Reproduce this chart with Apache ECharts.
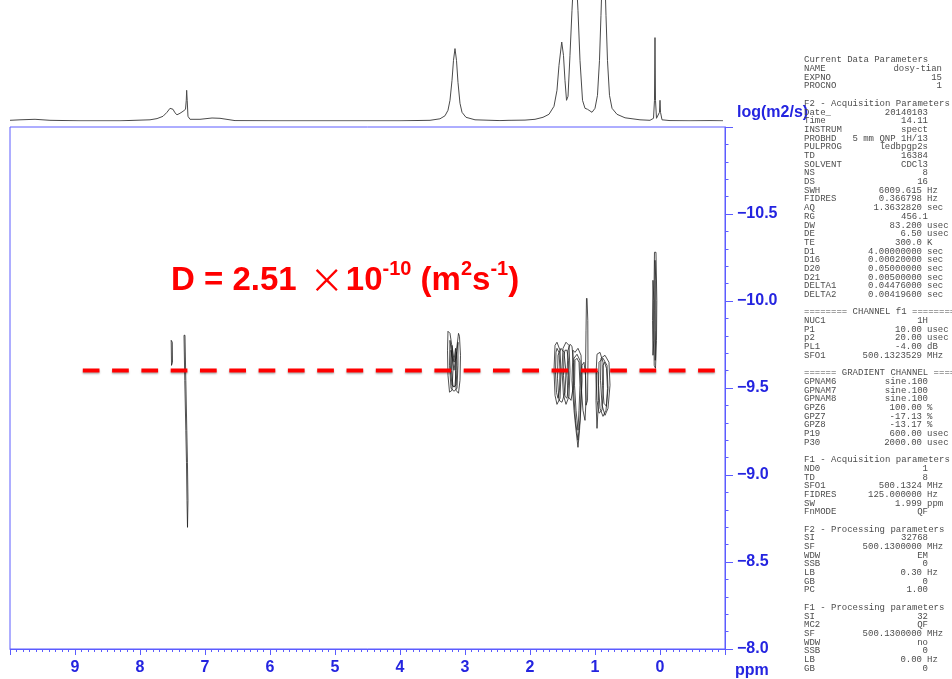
<!DOCTYPE html>
<html>
<head>
<meta charset="utf-8">
<script src="https://cdn.jsdelivr.net/npm/echarts@6/dist/echarts.min.js"></script>
<style>
  html, body { margin: 0; padding: 0; background: #ffffff; }
  #chart { width: 952px; height: 679px; }
</style>
</head>
<body>
<div id="chart"></div>
<script>
// ---- F2 (1H) projection: [ppm, intensity] ----
const SPECTRUM = [
  [10.0, 0.7], [9.846, 1.2], [9.615, 1.7], [9.385, 0.7], [8.923, 0.2], [8.308, 0.2],
  [7.846, 1.2], [7.738, 2.4], [7.646, 4.7], [7.585, 8.7], [7.538, 12.7], [7.515, 13.4],
  [7.492, 11.7], [7.462, 8.2], [7.431, 6.2], [7.385, 7.7], [7.338, 9.7], [7.300, 11.7],
  [7.288, 20.7], [7.282, 30.7], [7.274, 20.7], [7.262, 4.7], [7.231, 1.7], [7.077, 1.7],
  [6.892, 3.0], [6.769, 2.7], [6.538, 0.4], [5.846, 0.2], [4.923, 0.2], [4.000, 0.2],
  [3.538, 0.7], [3.385, 2.2], [3.308, 5.2], [3.262, 10.7], [3.231, 20.7], [3.200, 40.7],
  [3.177, 60.7], [3.154, 72.4], [3.131, 60.7], [3.108, 38.7], [3.077, 17.7], [3.046, 8.7],
  [2.985, 3.7], [2.846, 1.2], [2.462, 0.4], [2.323, 0.7], [2.308, 2.7], [2.292, 0.7],
  [2.077, 0.9], [1.923, 1.7], [1.800, 3.7], [1.708, 6.7], [1.631, 14.7], [1.585, 30.7],
  [1.554, 55.7], [1.512, 79.0], [1.485, 65.7], [1.462, 40.7], [1.438, 20.7], [1.415, 24.7],
  [1.385, 65.7], [1.354, 110.7], [1.331, 140], [1.308, 160], [1.285, 140], [1.262, 110.7],
  [1.231, 60.7], [1.192, 20.7], [1.154, 12.7], [1.115, 11.7], [1.100, 13.7], [1.085, 10.7],
  [1.046, 8.7], [1.000, 12.7], [0.962, 25.7], [0.931, 60.7], [0.908, 105.7], [0.892, 140],
  [0.869, 160], [0.846, 140], [0.831, 105.7], [0.808, 60.7], [0.777, 25.7], [0.738, 12.7],
  [0.662, 6.7], [0.538, 3.2], [0.308, 1.2], [0.154, 0.7], [0.100, 2.7], [0.085, 20.7],
  [0.077, 83.4], [0.069, 20.7], [0.054, 2.7], [0.031, 1.7], [0.008, 8.7], [0.000, 20.7],
  [-0.008, 8.7], [-0.031, 1.2], [-0.154, 0.4], [-0.462, 0.2], [-0.769, 0.4], [-0.969, 0.2]
];

// ---- DOSY contour traces: [ppm, log D] ----
const CONTOURS_AROMATIC = [
  [[7.520, -9.774], [7.515, -9.630], [7.500, -9.648], [7.503, -9.763], [7.520, -9.774]],
  [[7.323, -9.803], [7.311, -9.544], [7.295, -9.257], [7.285, -9.073], [7.277, -8.855], [7.269, -8.699],
   [7.262, -8.855], [7.270, -9.073], [7.280, -9.257], [7.295, -9.544], [7.308, -9.803], [7.323, -9.803]]
];
const CONTOURS_317 = [
  [[3.262, -9.826], [3.269, -9.717], [3.262, -9.573], [3.238, -9.476], [3.200, -9.487], [3.185, -9.602], [3.192, -9.717], [3.231, -9.814], [3.262, -9.826]],
  [[3.100, -9.814], [3.131, -9.717], [3.146, -9.602], [3.138, -9.487], [3.100, -9.470], [3.077, -9.544], [3.069, -9.688], [3.085, -9.797], [3.100, -9.814]],
  [[3.231, -9.774], [3.238, -9.631], [3.215, -9.499], [3.169, -9.481], [3.123, -9.499], [3.108, -9.631], [3.108, -9.763], [3.138, -9.671], [3.169, -9.648], [3.200, -9.682], [3.231, -9.774]],
  [[3.215, -9.717], [3.223, -9.602], [3.200, -9.516], [3.169, -9.505], [3.138, -9.516], [3.123, -9.602], [3.131, -9.705], [3.169, -9.602], [3.215, -9.717]],
  [[3.200, -9.745], [3.208, -9.602], [3.185, -9.510], [3.154, -9.510], [3.138, -9.602], [3.146, -9.728], [3.169, -9.659], [3.200, -9.745]]
];
const CONTOURS_ALIPHATIC = [
  [[1.615, -9.745], [1.631, -9.602], [1.615, -9.458], [1.585, -9.406], [1.538, -9.441], [1.523, -9.590], [1.538, -9.717], [1.585, -9.763], [1.615, -9.745]],
  [[1.600, -9.705], [1.608, -9.590], [1.592, -9.475], [1.569, -9.441], [1.546, -9.487], [1.538, -9.602], [1.554, -9.705], [1.585, -9.728], [1.600, -9.705]],
  [[1.569, -9.688], [1.577, -9.556], [1.554, -9.429], [1.508, -9.418], [1.462, -9.475], [1.446, -9.590], [1.477, -9.705], [1.523, -9.728], [1.569, -9.688]],
  [[1.492, -9.728], [1.508, -9.602], [1.485, -9.458], [1.446, -9.406], [1.400, -9.452], [1.385, -9.602], [1.400, -9.745], [1.446, -9.763], [1.492, -9.728]],
  [[1.477, -9.688], [1.485, -9.573], [1.462, -9.452], [1.431, -9.441], [1.408, -9.516], [1.408, -9.659], [1.431, -9.717], [1.462, -9.717], [1.477, -9.688]],
  [[1.415, -9.717], [1.431, -9.573], [1.415, -9.452], [1.369, -9.429], [1.338, -9.498], [1.331, -9.648], [1.354, -9.740], [1.385, -9.751], [1.415, -9.717]],
  [[1.338, -9.717], [1.354, -9.544], [1.323, -9.372], [1.292, -9.257], [1.262, -9.159], [1.238, -9.257], [1.215, -9.401], [1.200, -9.544], [1.215, -9.688], [1.262, -9.728], [1.308, -9.705], [1.338, -9.717]],
  [[1.323, -9.671], [1.331, -9.487], [1.300, -9.314], [1.262, -9.200], [1.231, -9.314], [1.215, -9.487], [1.231, -9.659], [1.277, -9.694], [1.323, -9.671]],
  [[1.308, -9.659], [1.315, -9.516], [1.292, -9.372], [1.262, -9.257], [1.246, -9.372], [1.231, -9.516], [1.246, -9.648], [1.277, -9.671], [1.308, -9.659]],
  [[1.200, -9.630], [1.208, -9.487], [1.185, -9.372], [1.154, -9.314], [1.138, -9.429], [1.146, -9.573], [1.169, -9.648], [1.200, -9.630]],
  [[1.131, -10.016], [1.138, -9.832], [1.146, -9.602], [1.138, -9.401], [1.115, -9.429], [1.108, -9.659], [1.111, -9.889], [1.123, -10.016]],
  [[0.969, -9.694], [0.985, -9.573], [0.969, -9.429], [0.938, -9.355], [0.892, -9.372], [0.869, -9.516], [0.877, -9.648], [0.923, -9.705], [0.969, -9.694]],
  [[0.938, -9.648], [0.946, -9.516], [0.923, -9.383], [0.877, -9.337], [0.831, -9.372], [0.800, -9.498], [0.815, -9.630], [0.877, -9.671], [0.938, -9.648]],
  [[0.908, -9.671], [0.915, -9.544], [0.892, -9.401], [0.846, -9.343], [0.800, -9.383], [0.769, -9.516], [0.785, -9.648], [0.846, -9.688], [0.908, -9.671]],
  [[0.977, -9.602], [0.985, -9.429], [0.969, -9.268], [0.954, -9.268], [0.946, -9.429], [0.954, -9.590], [0.977, -9.602]],
  [[0.877, -9.630], [0.885, -9.516], [0.862, -9.412], [0.823, -9.395], [0.808, -9.498], [0.823, -9.613], [0.854, -9.648], [0.877, -9.630]]
];
const CONTOURS_TMS = [
  [[0.085, -10.280], [0.092, -10.061], [0.095, -9.832], [0.089, -9.630], [0.069, -9.613], [0.054, -9.774], [0.049, -10.004], [0.062, -10.280], [0.085, -10.280]],
  [[0.108, -10.119], [0.115, -9.889], [0.108, -9.688], [0.095, -9.774], [0.095, -10.004], [0.108, -10.119]],
  [[0.077, -10.234], [0.080, -9.947], [0.074, -9.659], [0.065, -9.832], [0.065, -10.119], [0.077, -10.234]]
];

// ---- diffusion coefficient marker ----
const D_VALUE = 2.51e-10;               // m^2 s^-1
const LOG_D = Math.log10(D_VALUE);
const MARKER_PPM_RANGE = [8.88, -2.02];

// ---- axis ticks ----
const PPM_TICKS = [9, 8, 7, 6, 5, 4, 3, 2, 1, 0];
const LOGD_TICKS = [-10.5, -10.0, -9.5, -9.0, -8.5, -8.0];

// ---- acquisition / processing parameter listing ----
const PARAM_HEADER = [
  ['Current Data Parameters'],
  ['NAME', 'dosy-tian'],
  ['EXPNO', '15'],
  ['PROCNO', '1']
];
const PARAM_ROWS = [
  [],
  ['F2 - Acquisition Parameters'],
  ['Date_', '20140103'],
  ['Time', '14.11'],
  ['INSTRUM', 'spect'],
  ['PROBHD', '5 mm QNP 1H/13'],
  ['PULPROG', 'ledbpgp2s'],
  ['TD', '16384'],
  ['SOLVENT', 'CDCl3'],
  ['NS', '8'],
  ['DS', '16'],
  ['SWH', '6009.615', 'Hz'],
  ['FIDRES', '0.366798', 'Hz'],
  ['AQ', '1.3632820', 'sec'],
  ['RG', '456.1'],
  ['DW', '83.200', 'usec'],
  ['DE', '6.50', 'usec'],
  ['TE', '300.0', 'K'],
  ['D1', '4.00000000', 'sec'],
  ['D16', '0.00020000', 'sec'],
  ['D20', '0.05000000', 'sec'],
  ['D21', '0.00500000', 'sec'],
  ['DELTA1', '0.04476000', 'sec'],
  ['DELTA2', '0.00419600', 'sec'],
  [],
  ['======== CHANNEL f1 ========'],
  ['NUC1', '1H'],
  ['P1', '10.00', 'usec'],
  ['p2', '20.00', 'usec'],
  ['PL1', '-4.00', 'dB'],
  ['SFO1', '500.1323529', 'MHz'],
  [],
  ['====== GRADIENT CHANNEL ====='],
  ['GPNAM6', 'sine.100'],
  ['GPNAM7', 'sine.100'],
  ['GPNAM8', 'sine.100'],
  ['GPZ6', '100.00', '%'],
  ['GPZ7', '-17.13', '%'],
  ['GPZ8', '-13.17', '%'],
  ['P19', '600.00', 'usec'],
  ['P30', '2000.00', 'usec'],
  [],
  ['F1 - Acquisition parameters'],
  ['ND0', '1'],
  ['TD', '8'],
  ['SFO1', '500.1324', 'MHz'],
  ['FIDRES', '125.000000', 'Hz'],
  ['SW', '1.999', 'ppm'],
  ['FnMODE', 'QF'],
  [],
  ['F2 - Processing parameters'],
  ['SI', '32768'],
  ['SF', '500.1300000', 'MHz'],
  ['WDW', 'EM'],
  ['SSB', '0'],
  ['LB', '0.30', 'Hz'],
  ['GB', '0'],
  ['PC', '1.00'],
  [],
  ['F1 - Processing parameters'],
  ['SI', '32'],
  ['MC2', 'QF'],
  ['SF', '500.1300000', 'MHz'],
  ['WDW', 'no'],
  ['SSB', '0'],
  ['LB', '0.00', 'Hz'],
  ['GB', '0']
];

// ---- styling ----
const AXIS_BLUE = '#5c5cff';
const LABEL_BLUE = '#2424e0';
const CONTOUR_COLOR = '#1a1a1a';
const LABEL_FONT = 'Liberation Sans';
const LIST_FONT = '9px "Liberation Mono", "DejaVu Sans Mono", monospace';
const LIST_COLOR = '#4d4d4d';

const chart = echarts.init(document.getElementById('chart'), null, { renderer: 'canvas' });

const contourSeries = [].concat(CONTOURS_AROMATIC, CONTOURS_317, CONTOURS_ALIPHATIC, CONTOURS_TMS).map(function (trace) {
  return {
    type: 'line',
    xAxisIndex: 0,
    yAxisIndex: 0,
    data: trace,
    showSymbol: false,
    symbol: 'none',
    silent: true,
    lineStyle: { color: CONTOUR_COLOR, width: 0.9, opacity: 0.85 },
    z: 3
  };
});

// parameter listing as text elements
const listGraphics = [];
const LIST_X = 804, LIST_TOP = 60, LIST_STEP = 8.69;
const UNIT_VALUE_RIGHT = 922, PLAIN_VALUE_RIGHT = 928, UNIT_LEFT = 927, HEADER_RIGHT = 942;
function addRow(row, i, isHeader) {
  const y = LIST_TOP + i * LIST_STEP;
  if (!row.length) return;
  listGraphics.push({ type: 'text', x: LIST_X, y: y, silent: true,
    style: { text: row[0], font: LIST_FONT, fill: LIST_COLOR, align: 'left', verticalAlign: 'middle' } });
  if (row[1] !== undefined) {
    const right = isHeader ? HEADER_RIGHT : (row[2] !== undefined ? UNIT_VALUE_RIGHT : PLAIN_VALUE_RIGHT);
    listGraphics.push({ type: 'text', x: right, y: y, silent: true,
      style: { text: row[1], font: LIST_FONT, fill: LIST_COLOR, align: 'right', verticalAlign: 'middle' } });
  }
  if (row[2] !== undefined) {
    listGraphics.push({ type: 'text', x: UNIT_LEFT, y: y, silent: true,
      style: { text: row[2], font: LIST_FONT, fill: LIST_COLOR, align: 'left', verticalAlign: 'middle' } });
  }
}
PARAM_HEADER.forEach(function (r, i) { addRow(r, i, true); });
PARAM_ROWS.forEach(function (r, i) { addRow(r, i + PARAM_HEADER.length, false); });

const option = {
  animation: false,
  backgroundColor: '#ffffff',
  grid: [
    { left: 10, top: 127, width: 715, height: 522, show: true, borderColor: AXIS_BLUE, borderWidth: 1, backgroundColor: 'transparent' },
    { left: 10, top: 0, width: 715, height: 121 }
  ],
  xAxis: [
    {
      gridIndex: 0, type: 'value', min: -1, max: 10, interval: 1, inverse: true, position: 'bottom',
      axisLine: { show: true, onZero: false, lineStyle: { color: AXIS_BLUE, width: 1 } },
      axisTick: { show: true, inside: false, length: 6, lineStyle: { color: AXIS_BLUE } },
      minorTick: { show: true, splitNumber: 10, length: 3, lineStyle: { color: AXIS_BLUE } },
      splitLine: { show: false },
      axisLabel: {
        show: true, margin: 11, color: LABEL_BLUE, fontFamily: LABEL_FONT, fontWeight: 'bold', fontSize: 16,
        formatter: function (v) { return PPM_TICKS.indexOf(v) >= 0 ? String(v) : ''; }
      }
    },
    { gridIndex: 1, type: 'value', min: -1, max: 10, inverse: true, show: false }
  ],
  yAxis: [
    {
      gridIndex: 0, type: 'value', min: -11, max: -8, interval: 0.5, inverse: true, position: 'right',
      axisLine: { show: true, onZero: false, lineStyle: { color: AXIS_BLUE, width: 1 } },
      axisTick: { show: true, inside: false, length: 8, lineStyle: { color: AXIS_BLUE } },
      minorTick: { show: true, splitNumber: 5, length: 3.5, lineStyle: { color: AXIS_BLUE } },
      splitLine: { show: false },
      axisLabel: {
        show: true, margin: 12, color: LABEL_BLUE, fontFamily: LABEL_FONT, fontWeight: 'bold', fontSize: 16,
        formatter: function (v) {
          const hit = LOGD_TICKS.some(function (t) { return Math.abs(t - v) < 1e-9; });
          return hit ? '\u2212' + Math.abs(v).toFixed(1) : '';
        }
      }
    },
    { gridIndex: 1, type: 'value', min: 0, max: 121, show: false }
  ],
  series: [
    {
      type: 'line', xAxisIndex: 1, yAxisIndex: 1, data: SPECTRUM,
      showSymbol: false, symbol: 'none', silent: true,
      lineStyle: { color: '#4a4a4a', width: 1 }, z: 2
    }
  ].concat(contourSeries, [
    {
      type: 'line', xAxisIndex: 0, yAxisIndex: 0, clip: false,
      data: [[MARKER_PPM_RANGE[0], LOG_D], [MARKER_PPM_RANGE[1], LOG_D]],
      showSymbol: false, symbol: 'none', silent: true,
      lineStyle: {
        color: '#ff0000', width: 4, type: [16.7, 12.6], cap: 'butt',
        shadowColor: 'rgba(0,0,0,0.3)', shadowBlur: 2, shadowOffsetY: 1.5
      },
      z: 10
    }
  ]),
  graphic: [
    { type: 'text', x: 737, y: 113, silent: true,
      style: { text: 'log(m2/s)', font: 'bold 16px "Liberation Sans"', fill: LABEL_BLUE, align: 'left', verticalAlign: 'middle' } },
    { type: 'text', x: 735, y: 671, silent: true,
      style: { text: 'ppm', font: 'bold 16px "Liberation Sans"', fill: LABEL_BLUE, align: 'left', verticalAlign: 'middle' } },
    { type: 'text', x: 171, y: 259, silent: true, z: 20,
      style: {
        text: '{b|D = 2.51 }{x|\u00d7}{b|10}{s|-10}{b| (m}{s|2}{b|s}{s|-1}{b|)}',
        rich: {
          b: { fontSize: 33, fontWeight: 'bold', fontFamily: LABEL_FONT, fill: '#ff0000', lineHeight: 38, verticalAlign: 'bottom' },
          x: { fontSize: 34, fontWeight: 'normal', fontFamily: '"Noto Sans CJK SC"', fill: '#ff0000', lineHeight: 38, verticalAlign: 'bottom', padding: [0, 2, 0, 4] },
          s: { fontSize: 20, fontWeight: 'bold', fontFamily: LABEL_FONT, fill: '#ff0000', lineHeight: 21, verticalAlign: 'top' }
        }
      } }
  ].concat(listGraphics)
};

chart.setOption(option);
</script>
</body>
</html>
